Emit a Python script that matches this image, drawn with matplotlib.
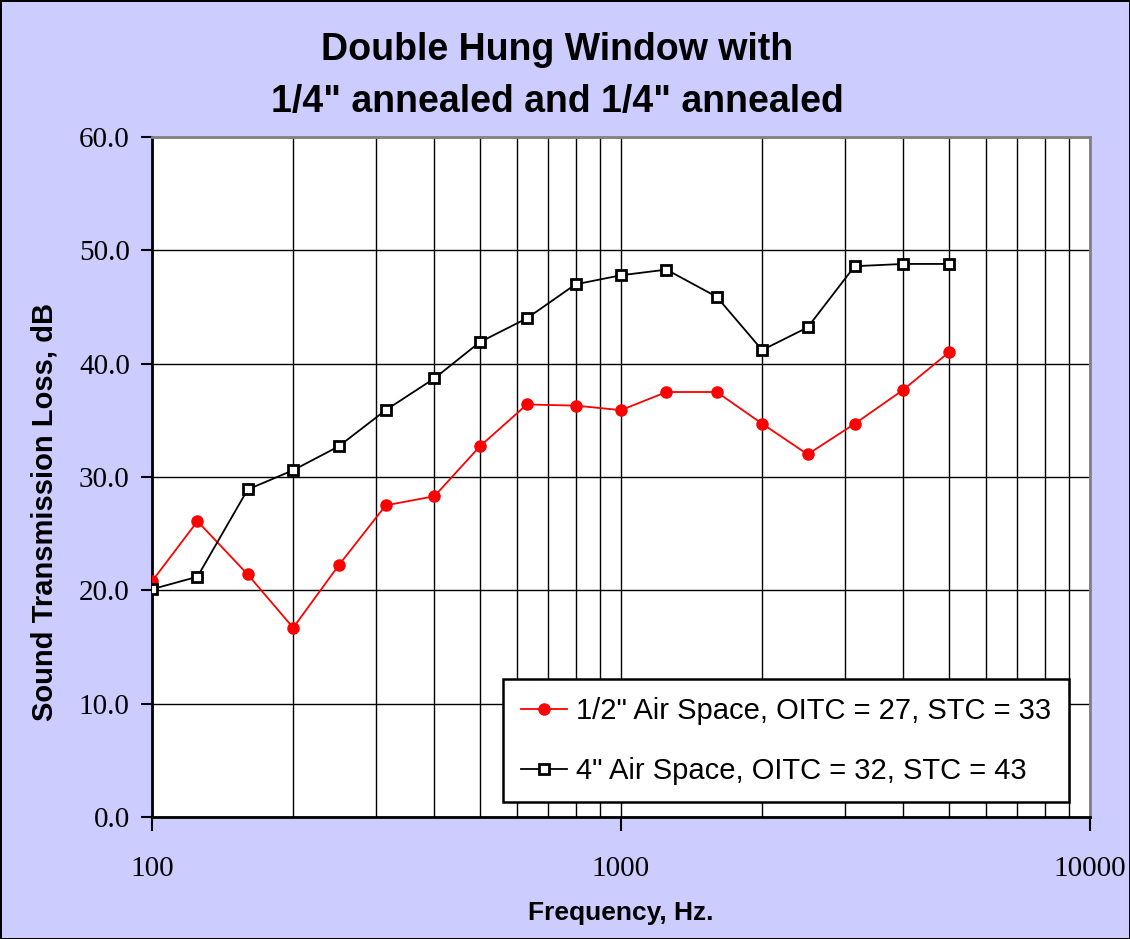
import matplotlib
matplotlib.use('Agg')
import matplotlib.pyplot as plt
from matplotlib.ticker import FixedLocator, LogLocator, NullFormatter, FormatStrFormatter

# one-third octave band centre frequencies
freqs = [100, 125, 160, 200, 250, 315, 400, 500, 630, 800,
         1000, 1250, 1600, 2000, 2500, 3150, 4000, 5000]

# 1/2" air space
stl_half = [20.8, 26.1, 21.4, 16.7, 22.2, 27.5, 28.3, 32.7, 36.4, 36.3,
            35.9, 37.5, 37.5, 34.7, 32.0, 34.7, 37.7, 41.0]
# 4" air space
stl_four = [20.1, 21.2, 28.9, 30.6, 32.7, 35.9, 38.7, 41.9, 44.0, 47.0,
            47.8, 48.3, 45.9, 41.2, 43.2, 48.6, 48.8, 48.8]

labels = ['1/2" Air Space, OITC = 27, STC = 33',
          '4" Air Space, OITC = 32, STC = 43']
x_ticks = [100, 1000, 10000]
y_ticks = [0, 10, 20, 30, 40, 50, 60]

bg = '#CCCCFF'

fig = plt.figure(figsize=(11.3, 9.39), dpi=100, facecolor=bg,
                 edgecolor='black', linewidth=2)
ax = fig.add_axes([0.1345, 0.1299, 0.8301, 0.7242])
ax.set_facecolor('white')

ax.plot(freqs, stl_half, color='red', lw=1.3, marker='o', ms=8,
        mfc='red', mec='red', label=labels[0], zorder=4)
ax.plot(freqs, stl_four, color='black', lw=1.3, marker='s', ms=7.5,
        mfc='white', mec='black', mew=2, label=labels[1], zorder=4)

ax.set_xscale('log')
ax.set_xlim(100, 10000)
ax.set_ylim(0, 60)

ax.xaxis.set_major_locator(FixedLocator(x_ticks))
ax.xaxis.set_minor_locator(LogLocator(base=10, subs=range(2, 10)))
ax.xaxis.set_minor_formatter(NullFormatter())
ax.set_xticklabels([str(v) for v in x_ticks])
ax.yaxis.set_major_locator(FixedLocator(y_ticks))
ax.yaxis.set_major_formatter(FormatStrFormatter('%.1f'))

ax.grid(True, which='major', color='black', lw=1)
ax.grid(True, which='minor', axis='x', color='black', lw=1)
ax.set_axisbelow(True)

ax.tick_params(axis='x', which='major', direction='out', length=10, width=1.5, pad=18)
ax.tick_params(axis='x', which='minor', length=0)
ax.tick_params(axis='y', direction='out', length=8, width=1.5, pad=8)
for lab in ax.get_xticklabels() + ax.get_yticklabels():
    lab.set_fontfamily('Liberation Serif')
    lab.set_fontsize(21)

for side in ['left', 'bottom']:
    ax.spines[side].set_linewidth(2)
    ax.spines[side].set_color('black')
for side in ['top', 'right']:
    ax.spines[side].set_linewidth(2)
    ax.spines[side].set_color('#808080')

ax.set_ylabel('Sound Transmission Loss, dB', fontfamily='Liberation Sans',
              fontweight='bold', fontsize=21)
ax.yaxis.set_label_coords(-0.1, 0.449)
ax.set_xlabel('Frequency, Hz.', fontfamily='Liberation Sans',
              fontweight='bold', fontsize=19, labelpad=14)

fig.text(0.493, 0.919, 'Double Hung Window with\n1/4" annealed and 1/4" annealed',
         ha='center', va='center', fontfamily='Liberation Sans',
         fontweight='bold', fontsize=27, linespacing=1.55)

leg = ax.legend(loc='lower right', bbox_to_anchor=(0.993, 0.0),
                prop={'family': 'Liberation Sans', 'size': 21},
                frameon=True, fancybox=False, edgecolor='black',
                framealpha=1, handlelength=1.6, handletextpad=0.3,
                labelspacing=1.1, borderpad=0.6)
leg.get_frame().set_linewidth(1.8)

fig.savefig('out.png', dpi=100, facecolor=bg, edgecolor='black')
